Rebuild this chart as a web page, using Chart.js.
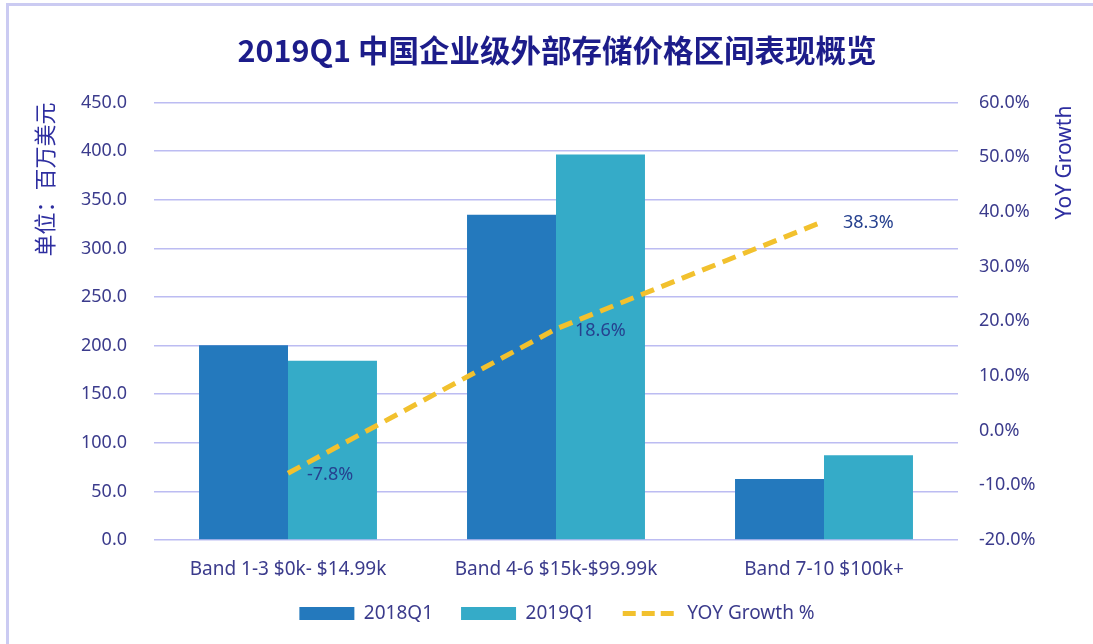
<!DOCTYPE html>
<html>
<head>
<meta charset="utf-8">
<title>2019Q1 中国企业级外部存储价格区间表现概览</title>
<script src="https://cdn.jsdelivr.net/npm/chart.js@4.4.1/dist/chart.umd.min.js"></script>
<style>
  html, body { margin: 0; padding: 0; background: #fff; }
  #wrap {
    position: relative;
    box-sizing: border-box;
    border-top: 3px solid #cbcbf2;
    border-left: 3px solid #cbcbf2;
    margin-top: 3px;
    margin-left: 6px;
    width: 1087px;
    height: 641px;
  }
  #chart { display: block; }
</style>
</head>
<body>
<div id="wrap"><canvas id="chart" width="1084" height="638"></canvas></div>
<script>
// Chart data
const bands = ['Band 1-3 $0k- $14.99k', 'Band 4-6 $15k-$99.99k', 'Band 7-10 $100k+'];
const sales2018 = [200.3, 334.5, 62.8];
const sales2019 = [184.5, 396.5, 87.2];
const yoyGrowth = [-7.8, 18.6, 38.3];

const textColor = '#3b3b8c';
const gridColor = '#bcbcf2';
const baseFont = "'Noto Sans', 'Noto Sans CJK SC', sans-serif";

// Draws the percentage labels next to the growth line points
const pointLabels = {
  id: 'pointLabels',
  afterDatasetsDraw(chart) {
    const meta = chart.getDatasetMeta(2);
    const ctx = chart.ctx;
    ctx.save();
    ctx.font = "18px " + baseFont;
    ctx.fillStyle = '#26418f';
    ctx.textAlign = 'left';
    ctx.textBaseline = 'middle';
    meta.data.forEach((pt, i) => {
      ctx.fillText(yoyGrowth[i].toFixed(1) + '%', pt.x + 19, pt.y + 2);
    });
    ctx.restore();
  }
};

// Right axis title reads bottom-to-top, like the left one
const rightTitle = {
  id: 'rightTitle',
  afterDraw(chart) {
    const s = chart.scales.y1;
    const ctx = chart.ctx;
    ctx.save();
    ctx.translate(s.right - 28, chart.chartArea.top + 3);
    ctx.rotate(-Math.PI / 2);
    ctx.font = "21px " + baseFont;
    ctx.fillStyle = '#2e2ea0';
    ctx.textAlign = 'right';
    ctx.textBaseline = 'middle';
    ctx.fillText('YoY Growth', 0, 0);
    ctx.restore();
  }
};

const ctx = document.getElementById('chart').getContext('2d');
new Chart(ctx, {
  type: 'bar',
  data: {
    labels: bands,
    datasets: [
      {
        label: '2018Q1',
        data: sales2018,
        backgroundColor: '#2479bd',
        yAxisID: 'y',
        order: 2,
        categoryPercentage: 0.664,
        barPercentage: 1.0
      },
      {
        label: '2019Q1',
        data: sales2019,
        backgroundColor: '#35abc8',
        yAxisID: 'y',
        order: 2,
        categoryPercentage: 0.664,
        barPercentage: 1.0
      },
      {
        type: 'line',
        label: 'YOY Growth %',
        data: yoyGrowth,
        borderColor: '#f2c12e',
        backgroundColor: '#f2c12e',
        borderWidth: 5,
        borderDash: [14, 8],
        pointRadius: 0,
        tension: 0,
        yAxisID: 'y1',
        order: 1
      }
    ]
  },
  options: {
    responsive: false,
    animation: false,
    layout: { padding: { left: 12, right: 0, top: 0, bottom: 11 } },
    plugins: {
      title: {
        display: true,
        text: '2019Q1 中国企业级外部存储价格区间表现概览',
        color: '#1c1c8a',
        font: { family: "'Noto Sans CJK SC', sans-serif", size: 30.5, weight: 'bold' },
        padding: { top: 26, bottom: 34 }
      },
      legend: {
        position: 'bottom',
        labels: {
          color: textColor,
          font: { family: baseFont, size: 19 },
          usePointStyle: true,
          pointStyleWidth: 55,
          boxHeight: 13,
          padding: 28,
          sort: (a, b) => a.datasetIndex - b.datasetIndex,
          generateLabels(chart) {
            const items = Chart.defaults.plugins.legend.labels.generateLabels(chart);
            items.forEach(it => {
              if (it.datasetIndex === 2) {
                it.pointStyle = 'line';
                it.lineWidth = 5;
                it.lineDash = [13, 6];
                it.strokeStyle = '#f2c12e';
              } else {
                it.pointStyle = 'rect';
                it.lineWidth = 0;
              }
            });
            return items;
          }
        }
      },
      tooltip: { enabled: false }
    },
    scales: {
      x: {
        afterFit(scale) { scale.height = 36; },
        grid: { display: false },
        border: { display: false },
        ticks: {
          color: textColor,
          font: { family: baseFont, size: 19 },
          padding: 10,
          maxRotation: 0
        }
      },
      y: {
        position: 'left',
        min: 0,
        max: 450,
        afterFit(scale) { scale.width = 133; },
        grid: { color: gridColor, lineWidth: 1.5, drawTicks: false },
        border: { display: false },
        title: {
          display: true,
          text: '单位：百万美元',
          align: 'end',
          color: '#2e2ea0',
          font: { family: "'Noto Sans CJK SC', sans-serif", size: 22 },
          padding: { top: 10, bottom: 0 }
        },
        ticks: {
          stepSize: 50,
          color: textColor,
          font: { family: baseFont, size: 18 },
          padding: 27,
          callback: v => v.toFixed(1)
        }
      },
      y1: {
        position: 'right',
        min: -20,
        max: 60,
        afterFit(scale) { scale.width = 135; },
        grid: { display: false, drawTicks: false },
        border: { display: false },
        ticks: {
          stepSize: 10,
          color: textColor,
          font: { family: baseFont, size: 18 },
          padding: 21,
          callback: v => v.toFixed(1) + '%'
        }
      }
    }
  },
  plugins: [pointLabels, rightTitle]
});
</script>
</body>
</html>
